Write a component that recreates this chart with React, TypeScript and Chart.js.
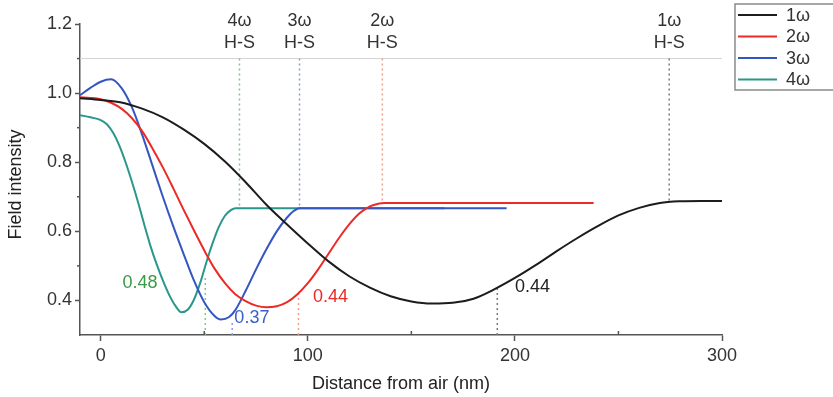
import React, { useEffect, useRef } from "react";
import { Chart, registerables } from "chart.js";

Chart.register(...registerables);

const FONT = '"Liberation Sans", Arial, Helvetica, sans-serif';

// ---- series ----
const seriesLabels = ["1ω", "2ω", "3ω", "4ω"];
const seriesColors = ["#1c1c1c", "#ec2a26", "#3456c2", "#2a978c"];

const x1w = [-10, 0, 10, 20, 30, 40, 50, 60, 70, 80, 90, 100, 110, 120, 130, 140, 150, 160, 170, 180, 190, 200, 210, 220, 230, 240, 250, 260, 270, 280, 290, 300];
const y1w = [0.985, 0.98, 0.973, 0.955, 0.93, 0.895, 0.853, 0.802, 0.742, 0.677, 0.62, 0.565, 0.513, 0.47, 0.437, 0.412, 0.397, 0.391, 0.393, 0.405, 0.432, 0.465, 0.502, 0.542, 0.58, 0.615, 0.646, 0.668, 0.682, 0.687, 0.688, 0.688];

const x2w = [-10, -5, 0, 5, 10, 15, 20, 25, 30, 35, 40, 45, 50, 55, 60, 65, 70, 75, 80, 85, 90, 95, 100, 105, 110, 115, 120, 125, 130, 134, 137, 238];
const y2w = [0.988, 0.986, 0.982, 0.972, 0.955, 0.928, 0.89, 0.84, 0.785, 0.725, 0.663, 0.603, 0.545, 0.492, 0.45, 0.418, 0.398, 0.385, 0.38, 0.383, 0.395, 0.418, 0.45, 0.49, 0.535, 0.58, 0.62, 0.652, 0.672, 0.68, 0.682, 0.682];

const x3w = [-10, -5, 0, 5, 10, 15, 20, 25, 30, 35, 40, 45, 50, 55, 58, 62, 65, 70, 75, 80, 85, 90, 93, 96, 196];
const y3w = [0.994, 1.015, 1.033, 1.04, 1.015, 0.96, 0.88, 0.79, 0.7, 0.615, 0.535, 0.458, 0.395, 0.355, 0.345, 0.352, 0.372, 0.428, 0.49, 0.548, 0.6, 0.64, 0.658, 0.667, 0.667];

const x4w = [-10, -5, 0, 3, 6, 9, 12, 15, 18, 21, 24, 27, 30, 33, 36, 39, 42, 45, 48, 51, 54, 57, 60, 63, 65, 166];
const y4w = [0.936, 0.93, 0.922, 0.91, 0.885, 0.848, 0.8, 0.745, 0.685, 0.62, 0.558, 0.505, 0.458, 0.417, 0.385, 0.366, 0.373, 0.402, 0.45, 0.51, 0.565, 0.612, 0.645, 0.662, 0.667, 0.667];

// ---- axes ----
const xMin = -10;
const xMax = 300;
const yMin = 0.3;
const yMax = 1.2;
const xTickValues = [0, 50, 100, 150, 200, 250, 300];
const xTickLabels = ["0", "", "100", "", "200", "", "300"];
const yTickValues = [0.3, 0.4, 0.5, 0.6, 0.7, 0.8, 0.9, 1.0, 1.1, 1.2];
const yTickLabels = ["", "0.4", "", "0.6", "", "0.8", "", "1.0", "", "1.2"];
const xTitle = "Distance from air (nm)";
const yTitle = "Field intensity";

// ---- H-S markers (top) ----
const hsNames = ["4ω", "3ω", "2ω", "1ω"];
const hsX = [67, 96, 136, 274.5];
const hsYEnd = [0.667, 0.667, 0.682, 0.687];
const hsTop = 1.1;
const markerColors = ["#86c486", "#8a9ce4", "#f0a08a", "#7a7a7a"];

// ---- minimum markers (bottom) ----
const depthX = [50.5, 63.5, 95.5, 191.5];
const depthY = [0.47, 0.335, 0.42, 0.44];
const valueLabels = ["0.48", "0.37", "0.44", "0.44"];
const valueLabelX = [19, 73, 111, 208.5];
const valueLabelY = [0.449, 0.35, 0.409, 0.438];
const valueLabelColors = ["#3a9a45", "#3a5fc8", "#ec2a26", "#222222"];

const xData = [x1w, x2w, x3w, x4w];
const yData = [y1w, y2w, y3w, y4w];

const overlayPlugin = {
  id: "overlay",
  beforeDatasetsDraw(chart: any) {
    const { ctx, chartArea, scales } = chart;
    const xs = scales.x;
    const ys = scales.y;
    ctx.save();
    const yRef = ys.getPixelForValue(hsTop);
    ctx.strokeStyle = "#d4d4d4";
    ctx.lineWidth = 1;
    ctx.beginPath();
    ctx.moveTo(chartArea.left, yRef);
    ctx.lineTo(chartArea.right, yRef);
    ctx.stroke();

    ctx.setLineDash([2, 3]);
    ctx.lineWidth = 1.5;
    hsX.forEach((v, i) => {
      const px = xs.getPixelForValue(v);
      ctx.strokeStyle = markerColors[i];
      ctx.beginPath();
      ctx.moveTo(px, yRef);
      ctx.lineTo(px, ys.getPixelForValue(hsYEnd[i]));
      ctx.stroke();
    });
    depthX.forEach((v, i) => {
      const px = xs.getPixelForValue(v);
      ctx.strokeStyle = markerColors[i];
      ctx.beginPath();
      ctx.moveTo(px, chartArea.bottom);
      ctx.lineTo(px, ys.getPixelForValue(depthY[i]));
      ctx.stroke();
    });
    ctx.restore();
  },
  afterDraw(chart: any) {
    const { ctx, chartArea, scales } = chart;
    const xs = scales.x;
    const ys = scales.y;
    ctx.save();
    // minor ticks
    ctx.strokeStyle = "#555";
    ctx.lineWidth = 1.5;
    xTickValues.forEach((v, i) => {
      if (xTickLabels[i] === "") {
        const px = xs.getPixelForValue(v);
        ctx.beginPath();
        ctx.moveTo(px, chartArea.bottom);
        ctx.lineTo(px, chartArea.bottom - 4);
        ctx.stroke();
      }
    });
    yTickValues.forEach((v, i) => {
      if (yTickLabels[i] === "" && i > 0) {
        const py = ys.getPixelForValue(v);
        ctx.beginPath();
        ctx.moveTo(chartArea.left, py);
        ctx.lineTo(chartArea.left - 3, py);
        ctx.stroke();
      }
    });

    // H-S labels
    const yRef = ys.getPixelForValue(hsTop);
    ctx.font = `18px ${FONT}`;
    ctx.fillStyle = "#333";
    ctx.textAlign = "center";
    ctx.textBaseline = "middle";
    hsX.forEach((v, i) => {
      const px = xs.getPixelForValue(v);
      ctx.fillText(hsNames[i], px, yRef - 38);
      ctx.fillText("H-S", px, yRef - 16);
    });

    // value labels
    valueLabels.forEach((t, i) => {
      ctx.fillStyle = valueLabelColors[i];
      ctx.fillText(t, xs.getPixelForValue(valueLabelX[i]), ys.getPixelForValue(valueLabelY[i]));
    });

    // axis titles
    ctx.fillStyle = "#222";
    ctx.fillText(xTitle, (chartArea.left + chartArea.right) / 2, chartArea.bottom + 49);
    ctx.save();
    ctx.translate(16, (chartArea.top + chartArea.bottom) / 2 + 5);
    ctx.rotate(-Math.PI / 2);
    ctx.fillText(yTitle, 0, 0);
    ctx.restore();

    // legend
    const lx = chartArea.right + 13;
    const ly = 4;
    ctx.strokeStyle = "#8a8a8a";
    ctx.lineWidth = 1.5;
    ctx.strokeRect(lx, ly, 120, 86);
    ctx.textAlign = "left";
    seriesLabels.forEach((lab, i) => {
      const ry = ly + 11 + i * 21.5;
      ctx.strokeStyle = seriesColors[i];
      ctx.lineWidth = 2;
      ctx.beginPath();
      ctx.moveTo(lx + 3, ry);
      ctx.lineTo(lx + 42, ry);
      ctx.stroke();
      ctx.fillStyle = "#333";
      ctx.fillText(lab, lx + 51, ry + 1);
    });
    ctx.restore();
  },
};

export default function App() {
  const canvasRef = useRef<HTMLCanvasElement | null>(null);

  useEffect(() => {
    document.body.style.margin = "0";
    const canvas = canvasRef.current;
    if (!canvas) return;
    const datasets = seriesLabels.map((label, i) => ({
      label,
      data: xData[i].map((x, j) => ({ x, y: yData[i][j] })),
      borderColor: seriesColors[i],
      backgroundColor: seriesColors[i],
      borderWidth: 2,
      pointRadius: 0,
      fill: false,
      cubicInterpolationMode: "monotone" as const,
    }));
    const chart = new Chart(canvas, {
      type: "line",
      data: { datasets },
      plugins: [overlayPlugin],
      options: {
        animation: false,
        responsive: true,
        maintainAspectRatio: false,
        layout: { padding: { top: 24, right: 111, left: 0, bottom: 0 } },
        plugins: { legend: { display: false }, tooltip: { enabled: false } },
        scales: {
          x: {
            type: "linear",
            min: xMin,
            max: xMax,
            afterBuildTicks: (axis: any) => {
              axis.ticks = xTickValues.map((v) => ({ value: v }));
            },
            afterFit: (axis: any) => {
              axis.height = 62;
            },
            ticks: {
              autoSkip: false,
              maxRotation: 0,
              padding: 4,
              color: "#333",
              font: { family: FONT, size: 18 },
              callback: (_v: any, i: number) => xTickLabels[i],
            },
            grid: {
              drawOnChartArea: false,
              tickLength: 6,
              tickWidth: 1.5,
              tickColor: (c: any) => (c.index !== undefined && xTickLabels[c.index] !== "" ? "#555" : "rgba(0,0,0,0)"),
            },
            border: { display: true, color: "#555", width: 1.5 },
          },
          y: {
            type: "linear",
            min: yMin,
            max: yMax,
            afterBuildTicks: (axis: any) => {
              axis.ticks = yTickValues.map((v) => ({ value: v }));
            },
            afterFit: (axis: any) => {
              axis.width = 80;
            },
            ticks: {
              autoSkip: false,
              padding: 3,
              color: "#333",
              font: { family: FONT, size: 18 },
              callback: (_v: any, i: number) => yTickLabels[i],
            },
            grid: {
              drawOnChartArea: false,
              tickLength: 5,
              tickWidth: 1.5,
              tickColor: (c: any) => (c.index !== undefined && yTickLabels[c.index] !== "" ? "#555" : "rgba(0,0,0,0)"),
            },
            border: { display: true, color: "#555", width: 1.5 },
          },
        },
      },
    });
    return () => chart.destroy();
  }, []);

  return (
    <div style={{ position: "relative", width: 833, height: 397 }}>
      <canvas ref={canvasRef} />
    </div>
  );
}
